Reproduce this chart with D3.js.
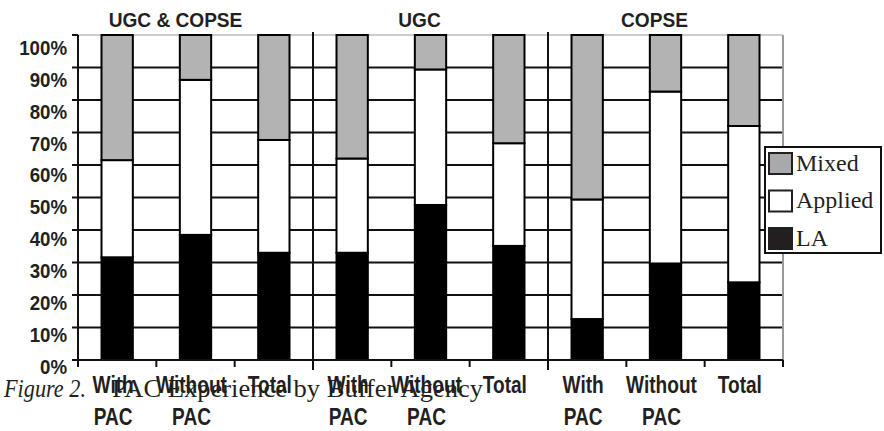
<!DOCTYPE html>
<html>
<head>
<meta charset="utf-8">
<script src="https://cdn.jsdelivr.net/npm/d3@7/dist/d3.min.js"></script>
<style>
  html, body { margin: 0; padding: 0; background: #fff; }
  svg { display: block; }
  .sans { font-family: "Liberation Sans", Arial, sans-serif; font-weight: bold; fill: #231f20; }
  .serif { font-family: "Liberation Serif", "Times New Roman", serif; fill: #231f20; }
</style>
</head>
<body>
<svg id="chart" width="884" height="431"></svg>
<script>
// ---- data ----
const groups = ["UGC & COPSE", "UGC", "COPSE"];
const categories = ["With PAC", "Without PAC", "Total", "With PAC", "Without PAC", "Total", "With PAC", "Without PAC", "Total"];
const categoryLines = [["With", "PAC"], ["Without", "PAC"], ["Total"], ["With", "PAC"], ["Without", "PAC"], ["Total"], ["With", "PAC"], ["Without", "PAC"], ["Total"]];
const seriesNames = ["LA", "Applied", "Mixed"];
const LA      = [31.6, 38.5, 33.0, 33.0, 47.7, 35.1, 12.6, 29.7, 23.9];
const Applied = [29.9, 47.7, 34.7, 29.0, 41.7, 31.6, 36.8, 52.9, 48.1];
const Mixed   = [38.5, 13.8, 32.3, 38.0, 10.6, 33.3, 50.6, 17.4, 28.0];
const yTicks = [0, 10, 20, 30, 40, 50, 60, 70, 80, 90, 100];
const legendOrder = ["Mixed", "Applied", "LA"];
const captionItalic = "Figure 2.";
const captionText = "PAC Experience by Buffer Agency";

// ---- layout ----
const plot = { left: 78, right: 783, top: 35, bottom: 360 };
const colors = { LA: "#000000", Applied: "#ffffff", Mixed: "#b3b3b3" };
const legendColors = { LA: "#231f20", Applied: "#ffffff", Mixed: "#a7a9ac" };

const svg = d3.select("#chart");

const x = d3.scaleBand().domain(d3.range(categories.length))
  .range([plot.left, plot.right]).paddingInner(0.6).paddingOuter(0.3);
const step = x.step();
const y = d3.scaleLinear().domain([0, 100]).range([plot.bottom, plot.top]);
// label baselines sit slightly below their gridlines in the original
const yLab = d3.scaleLinear().domain([0, 100]).range([plot.bottom + 13.5, plot.top + 20]);

const table = categories.map((c, i) => ({ i, LA: LA[i], Applied: Applied[i], Mixed: Mixed[i] }));
const stacked = d3.stack().keys(seriesNames)(table);

function sansText(sel, xf, yf, anchor, fs, sx) {
  return sel.attr("class", "sans")
    .attr("font-size", fs)
    .attr("text-anchor", anchor)
    .attr("transform", (d, i) => `translate(${xf(d, i)},${yf(d, i)}) scale(${sx},1)`);
}

// gridlines
svg.append("g").selectAll("line").data(yTicks.filter(t => t > 0 && t < 100)).join("line")
  .attr("x1", plot.left).attr("x2", plot.right)
  .attr("y1", d => y(d)).attr("y2", d => y(d))
  .attr("stroke", "#111").attr("stroke-width", 2);
svg.append("line").attr("x1", plot.left).attr("x2", plot.right)
  .attr("y1", y(100)).attr("y2", y(100)).attr("stroke", "#bbb").attr("stroke-width", 1.5);
svg.append("line").attr("x1", plot.right).attr("x2", plot.right)
  .attr("y1", y(100)).attr("y2", plot.bottom + 7).attr("stroke", "#9a9a9a").attr("stroke-width", 2);

// group separators
const sepIdx = [3, 6];
svg.append("g").selectAll("line").data(sepIdx).join("line")
  .attr("x1", d => plot.left + d * step).attr("x2", d => plot.left + d * step)
  .attr("y1", y(100) - 3).attr("y2", plot.bottom + 10)
  .attr("stroke", "#111").attr("stroke-width", 2);

// bars
svg.append("g").selectAll("g").data(stacked).join("g")
  .attr("fill", d => colors[d.key])
  .selectAll("rect").data(d => d).join("rect")
  .attr("x", d => x(d.data.i))
  .attr("width", x.bandwidth())
  .attr("y", d => y(d[1]))
  .attr("height", d => y(d[0]) - y(d[1]))
  .attr("stroke", "#000").attr("stroke-width", 2);

// y axis
svg.append("line").attr("x1", plot.left).attr("x2", plot.left)
  .attr("y1", y(100)).attr("y2", plot.bottom + 7).attr("stroke", "#111").attr("stroke-width", 2);
svg.append("g").selectAll("line").data(yTicks).join("line")
  .attr("x1", plot.left - 6).attr("x2", plot.left)
  .attr("y1", d => y(d)).attr("y2", d => y(d))
  .attr("stroke", "#111").attr("stroke-width", 2);
sansText(svg.append("g").selectAll("text").data(yTicks).join("text"),
  d => plot.left - 11, d => yLab(d), "end", 21, 0.89)
  .text(d => d + "%");

// x axis
svg.append("line").attr("x1", plot.left).attr("x2", plot.right)
  .attr("y1", plot.bottom).attr("y2", plot.bottom).attr("stroke", "#111").attr("stroke-width", 2);
svg.append("g").selectAll("line").data(d3.range(categories.length + 1)).join("line")
  .attr("x1", d => plot.left + d * step).attr("x2", d => plot.left + d * step)
  .attr("y1", plot.bottom).attr("y2", plot.bottom + 7)
  .attr("stroke", "#111").attr("stroke-width", 2);

// category labels (one text per line)
const catLines = categoryLines.flatMap((lines, i) => lines.map((s, j) => ({ s, i, j })));
sansText(svg.append("g").selectAll("text").data(catLines).join("text"),
  d => x(d.i) + x.bandwidth() / 2 - 4, d => 393 + d.j * 32, "middle", 23, 0.83)
  .text(d => d.s);

// group titles
const titleDx = [-20, -11, -11];
sansText(svg.append("g").selectAll("text").data(groups).join("text"),
  (d, i) => plot.left + (i * 3 + 1.5) * step + titleDx[i], () => 27, "middle", 21, 0.91)
  .text(d => d);

// legend
const lg = svg.append("g");
lg.append("rect").attr("x", 765).attr("y", 147).attr("width", 116).attr("height", 106)
  .attr("fill", "#fff").attr("stroke", "#111").attr("stroke-width", 2);
const li = lg.selectAll("g.item").data(legendOrder).join("g").attr("class", "item")
  .attr("transform", (d, i) => `translate(768,${152 + i * 37.5})`);
li.append("rect").attr("x", 1).attr("y", 1).attr("width", 23).attr("height", 21)
  .attr("fill", d => legendColors[d]).attr("stroke", "#231f20").attr("stroke-width", 2);
li.append("text").attr("class", "serif").attr("x", 28).attr("y", 18.5)
  .attr("font-size", 24).text(d => d);

// caption
svg.append("text").attr("class", "serif").attr("x", 4).attr("y", 397)
  .attr("font-size", 25).attr("font-style", "italic")
  .attr("textLength", 82).attr("lengthAdjust", "spacingAndGlyphs")
  .text(captionItalic);
svg.append("text").attr("class", "serif").attr("x", 112).attr("y", 397)
  .attr("font-size", 26)
  .attr("textLength", 371).attr("lengthAdjust", "spacingAndGlyphs")
  .text(captionText);
</script>
</body>
</html>
